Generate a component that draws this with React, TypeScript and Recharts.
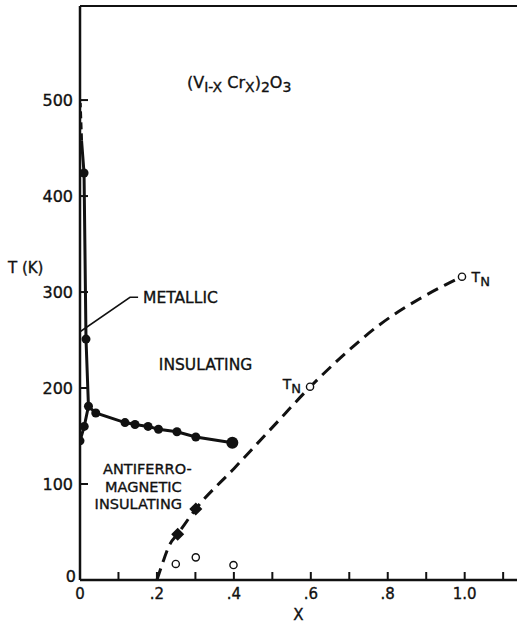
import React from 'react';
import {
  ComposedChart,
  Line,
  Scatter,
  XAxis,
  YAxis,
  ReferenceLine,
  ReferenceDot,
} from 'recharts';

// ---- data (x = Cr fraction, y = temperature in K) ----
const lowerBoundary = [
  { x: 0, y: 145 },
  { x: 0.011, y: 160 },
  { x: 0.022, y: 181 },
  { x: 0.041, y: 174 },
  { x: 0.117, y: 164 },
  { x: 0.143, y: 162 },
  { x: 0.177, y: 160 },
  { x: 0.204, y: 157 },
  { x: 0.252, y: 154.5 },
  { x: 0.301, y: 149 },
  { x: 0.396, y: 143 },
];
const upperBoundary = [
  { x: 0.022, y: 181 },
  { x: 0.0156, y: 251 },
  { x: 0.0105, y: 424 },
  { x: 0.004, y: 458 },
];
const upperBoundaryTip = [
  { x: 0.004, y: 458 },
  { x: 0.0005, y: 497 },
];
const filledDots = [
  { x: 0, y: 145 },
  { x: 0.011, y: 160 },
  { x: 0.022, y: 181 },
  { x: 0.041, y: 174 },
  { x: 0.117, y: 164 },
  { x: 0.143, y: 162 },
  { x: 0.177, y: 160 },
  { x: 0.204, y: 157 },
  { x: 0.252, y: 154.5 },
  { x: 0.301, y: 149 },
  { x: 0.0156, y: 251 },
  { x: 0.0105, y: 424 },
];
const bigDot = [{ x: 0.396, y: 143 }];
const diamonds = [
  { x: 0.254, y: 47.6 },
  { x: 0.301, y: 74 },
];
const openCircles = [
  { x: 0.249, y: 16.7 },
  { x: 0.301, y: 23.6 },
  { x: 0.399, y: 15.6 },
  { x: 0.598, y: 201.4 },
  { x: 0.993, y: 316 },
];
const neelCurve = [
  { x: 0.2, y: 0 },
  { x: 0.215, y: 18 },
  { x: 0.232, y: 36 },
  { x: 0.254, y: 48 },
  { x: 0.301, y: 74 },
  { x: 0.4, y: 116 },
  { x: 0.5, y: 159 },
  { x: 0.598, y: 201 },
  { x: 0.687, y: 235 },
  { x: 0.779, y: 266 },
  { x: 0.883, y: 293 },
  { x: 0.95, y: 307.5 },
  { x: 0.993, y: 316 },
];
const metallicLeader = [
  { x: 0, y: 258.6 },
  { x: 0.13, y: 294.5 },
  { x: 0.151, y: 294.5 },
];

const xTicks = [0, 0.1, 0.2, 0.3, 0.4, 0.5, 0.6, 0.7, 0.8, 0.9, 1.0, 1.1];
const xTickLabels = ['0', '', '.2', '', '.4', '', '.6', '', '.8', '', '1.0', ''];
const yTicks = [0, 100, 200, 300, 400, 500];
const yTickLabels = ['0', '100', '200', '300', '400', '500'];

const FONT = '"DejaVu Sans", sans-serif';
const INK = '#111';
const TEXT_STROKE = 0.35;

const XTick = (props: any) => {
  const { x, y, payload, index } = props;
  const label = xTickLabels[index] ?? '';
  return (
    <g>
      {payload.value > 0 && (
        <line x1={x} y1={y} x2={x} y2={y - 8} stroke={INK} strokeWidth={2} />
      )}
      {label !== '' && (
        <text
          x={x}
          y={y + 19}
          textAnchor="middle"
          fontFamily={FONT}
          fontSize={15}
          fill={INK}
          stroke={INK}
          strokeWidth={TEXT_STROKE}
        >
          {label}
        </text>
      )}
    </g>
  );
};

const YTick = (props: any) => {
  const { x, y, payload, index } = props;
  const label = yTickLabels[index] ?? String(payload.value);
  const isZero = payload.value === 0;
  return (
    <g>
      {!isZero && <line x1={x} y1={y} x2={x + 8} y2={y} stroke={INK} strokeWidth={2} />}
      <text
        x={isZero ? x - 4 : x - 7}
        y={isZero ? y + 2 : y + 6}
        textAnchor="end"
        fontFamily={FONT}
        fontSize={16}
        fill={INK}
        stroke={INK}
        strokeWidth={TEXT_STROKE}
      >
        {label}
      </text>
    </g>
  );
};

const dotShape = (r: number) => (p: any) => (
  <circle cx={p.cx} cy={p.cy} r={r} fill={INK} stroke="none" />
);
const openShape = (p: any) => (
  <circle cx={p.cx} cy={p.cy} r={3.6} fill="#fff" stroke={INK} strokeWidth={1.4} />
);
const diamondShape = (p: any) => (
  <rect
    x={p.cx - 4.6}
    y={p.cy - 4.6}
    width={9.2}
    height={9.2}
    fill={INK}
    transform={`rotate(45 ${p.cx} ${p.cy})`}
  />
);

// text annotation placed at a data point (left anchor, vertically centered)
const textAt = (
  key: string,
  x: number,
  y: number,
  render: (cx: number, cy: number) => React.ReactNode,
) => (
  <ReferenceDot
    key={key}
    x={x}
    y={y}
    r={1}
    fill="none"
    stroke="none"
    ifOverflow="visible"
    label={{
      content: (lp: any) => {
        const vb = lp.viewBox || {};
        const cx = vb.x + (vb.width || 0) / 2;
        const cy = vb.y + (vb.height || 0) / 2;
        return <g>{render(cx, cy)}</g>;
      },
    }}
  />
);

const txt = (s: string, size = 15.5) => (cx: number, cy: number) => (
  <text
    x={cx}
    y={cy + size * 0.36}
    fontFamily={FONT}
    fontSize={size}
    fill={INK}
    stroke={INK}
    strokeWidth={TEXT_STROKE}
  >
    {s}
  </text>
);

const tn = (cx: number, cy: number) => (
  <text
    x={cx}
    y={cy + 4}
    fontFamily={FONT}
    fontSize={14}
    fill={INK}
    stroke={INK}
    strokeWidth={TEXT_STROKE}
  >
    T
    <tspan fontSize={13} dy={4}>
      N
    </tspan>
  </text>
);

const title = (cx: number, cy: number) => (
  <text
    x={cx}
    y={cy + 6}
    fontFamily={FONT}
    fontSize={16}
    fill={INK}
    stroke={INK}
    strokeWidth={TEXT_STROKE}
  >
    (V
    <tspan fontSize={14} dy={4}>
      I-X
    </tspan>
    <tspan dy={-4}> Cr</tspan>
    <tspan fontSize={14} dy={4}>
      X
    </tspan>
    <tspan dy={-4}>)</tspan>
    <tspan fontSize={14} dy={4}>
      2
    </tspan>
    <tspan dy={-4}>O</tspan>
    <tspan fontSize={14} dy={4}>
      3
    </tspan>
  </text>
);

export default function App() {
  return (
    <div style={{ position: 'absolute', left: 0, top: 0, width: 517, height: 623, background: '#fff' }}>
      <ComposedChart
        width={517}
        height={623}
        margin={{ top: 6, right: 0, bottom: 0, left: 8 }}
      >
        <XAxis
          dataKey="x"
          type="number"
          domain={[0, 1.136]}
          ticks={xTicks}
          interval={0}
          allowDataOverflow
          height={43}
          tickSize={0}
          tickMargin={0}
          tickLine={false}
          tick={<XTick />}
          axisLine={{ stroke: INK, strokeWidth: 2.5 }}
          label={{
            value: 'X',
            position: 'insideBottom',
            offset: 3,
            fontSize: 15,
            fontFamily: FONT,
            fill: INK,
            stroke: INK,
            strokeWidth: TEXT_STROKE,
          }}
        />
        <YAxis
          dataKey="y"
          type="number"
          domain={[0, 598]}
          ticks={yTicks}
          interval={0}
          allowDataOverflow
          width={72}
          tickSize={0}
          tickMargin={0}
          tickLine={false}
          tick={<YTick />}
          axisLine={{ stroke: INK, strokeWidth: 2.5 }}
        />
        <ReferenceLine y={598} stroke={INK} strokeWidth={2} ifOverflow="visible" />

        <Line
          data={neelCurve}
          dataKey="y"
          type="monotone"
          stroke={INK}
          strokeWidth={3}
          strokeDasharray="12 7"
          dot={false}
          isAnimationActive={false}
        />
        <Line
          data={lowerBoundary}
          dataKey="y"
          type="linear"
          stroke={INK}
          strokeWidth={3}
          dot={false}
          isAnimationActive={false}
        />
        <Line
          data={upperBoundary}
          dataKey="y"
          type="linear"
          stroke={INK}
          strokeWidth={3}
          dot={false}
          isAnimationActive={false}
        />
        <Line
          data={upperBoundaryTip}
          dataKey="y"
          type="linear"
          stroke={INK}
          strokeWidth={3}
          strokeDasharray="7 4"
          dot={false}
          isAnimationActive={false}
        />
        <Line
          data={metallicLeader}
          dataKey="y"
          type="linear"
          stroke={INK}
          strokeWidth={1.5}
          dot={false}
          isAnimationActive={false}
        />
        <Scatter data={filledDots} dataKey="y" shape={dotShape(4.5)} isAnimationActive={false} />
        <Scatter data={bigDot} dataKey="y" shape={dotShape(6)} isAnimationActive={false} />
        <Scatter data={diamonds} dataKey="y" shape={diamondShape} isAnimationActive={false} />
        <Scatter data={openCircles} dataKey="y" shape={openShape} isAnimationActive={false} />

        {textAt('title', 0.278, 518.75, title)}
        {textAt('metallic', 0.164, 294.8, txt('METALLIC'))}
        {textAt('insulating', 0.205, 225, txt('INSULATING'))}
        {textAt('af1', 0.06, 115.6, txt('ANTIFERRO-', 14.5))}
        {textAt('af2', 0.065, 97.4, txt('MAGNETIC', 14.5))}
        {textAt('af3', 0.038, 79.2, txt('INSULATING', 14.5))}
        {textAt('tn1', 0.527, 203, tn)}
        {textAt('tn2', 1.018, 314.6, tn)}
        {textAt('ylabel', 0, 326, (cx, cy) => (
          <text
            x={cx - 72}
            y={cy + 5.5}
            fontFamily={FONT}
            fontSize={15}
            fill={INK}
            stroke={INK}
            strokeWidth={TEXT_STROKE}
          >
            T (K)
          </text>
        ))}
      </ComposedChart>
    </div>
  );
}
